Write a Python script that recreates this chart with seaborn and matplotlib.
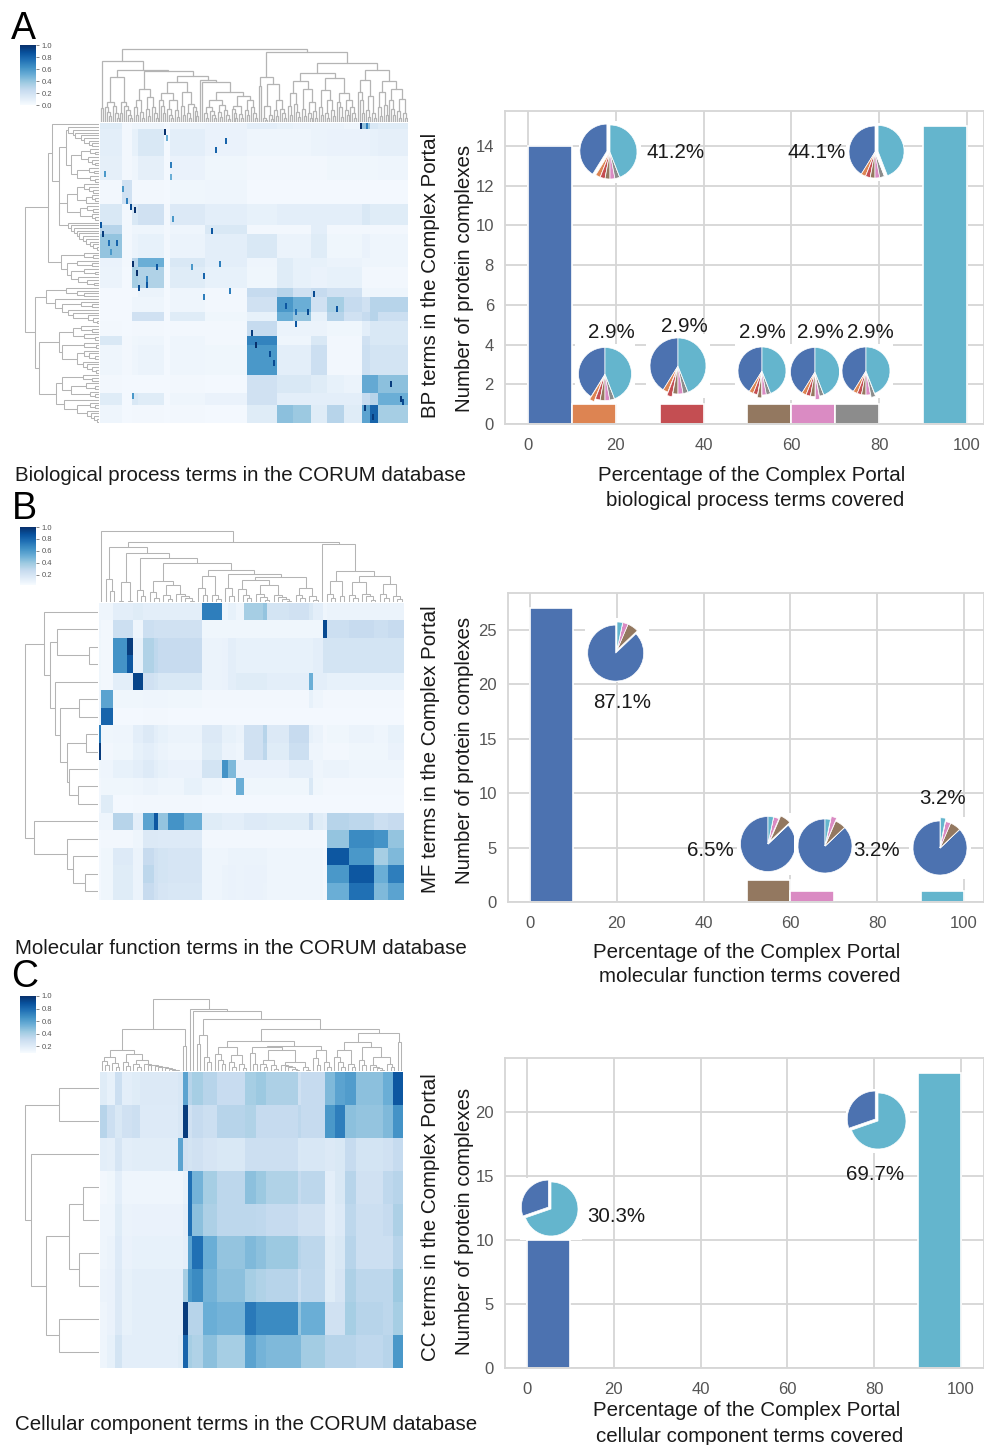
import numpy as np
import matplotlib
matplotlib.use("Agg")
import matplotlib.pyplot as plt
import seaborn as sns

# ---------- bar / pie data ----------
bin_edges = [0, 10, 20, 30, 40, 50, 60, 70, 80, 90, 100]
bin_mids = [5, 15, 25, 35, 45, 55, 65, 75, 85, 95]
counts_bp = [14, 1, 0, 1, 0, 1, 1, 1, 0, 15]
counts_mf = [27, 0, 0, 0, 0, 2, 1, 0, 0, 1]
counts_cc = [10, 0, 0, 0, 0, 0, 0, 0, 0, 23]

# ---------- panel A heatmap: blocks (rows x column groups) ----------
a_row_counts = [2, 9, 8, 8, 7, 3, 8, 3, 7, 3, 5, 3, 5, 3, 10, 6, 4, 6]
a_col_counts = [11, 5, 3, 13, 3, 18, 21, 15, 8, 9, 8, 9, 9, 4, 4, 15]
a_blocks = [
    [.12, .03, .05, .05, .02, .06, .07, .10, .08, .07, .06, .06, .05, .40, .15, .12],
    [.10, .03, .08, .15, .02, .10, .07, .05, .05, .05, .06, .07, .07, .07, .08, .09],
    [.09, .03, .05, .09, .02, .07, .04, .03, .03, .03, .03, .04, .04, .04, .04, .05],
    [.03, .20, .03, .03, .02, .04, .05, .02, .02, .02, .02, .02, .02, .02, .02, .02],
    [.15, .03, .15, .20, .03, .14, .10, .08, .10, .10, .10, .10, .10, .15, .12, .12],
    [.30, .03, .05, .05, .03, .05, .15, .03, .03, .03, .10, .03, .03, .03, .03, .03],
    [.40, .03, .06, .08, .03, .06, .10, .15, .06, .06, .12, .04, .04, .07, .05, .05],
    [.07, .03, .30, .50, .02, .15, .10, .05, .12, .08, .08, .06, .06, .05, .05, .05],
    [.06, .02, .35, .32, .02, .12, .08, .04, .12, .08, .07, .08, .08, .03, .03, .03],
    [.02, .02, .03, .06, .02, .05, .03, .25, .30, .20, .25, .20, .20, .05, .05, .05],
    [.02, .02, .05, .05, .02, .05, .03, .20, .60, .50, .20, .35, .25, .20, .30, .30],
    [.02, .02, .20, .20, .02, .12, .04, .08, .50, .40, .08, .30, .20, .25, .30, .22],
    [.03, .02, .03, .03, .02, .03, .03, .25, .06, .06, .06, .04, .04, .10, .15, .15],
    [.15, .03, .04, .05, .02, .05, .03, .68, .05, .05, .15, .03, .03, .20, .15, .15],
    [.05, .03, .05, .06, .02, .05, .04, .60, .10, .10, .22, .03, .03, .22, .18, .18],
    [.03, .02, .02, .02, .02, .03, .02, .20, .15, .15, .12, .08, .06, .52, .52, .42],
    [.12, .02, .15, .12, .02, .05, .07, .20, .10, .10, .10, .10, .10, .25, .30, .50],
    [.05, .02, .03, .03, .02, .03, .02, .12, .42, .38, .12, .30, .12, .55, .80, .35],
]
a_spot_rows = [2, 4, 5, 8, 13, 17, 16, 21, 25, 27, 28, 33, 31, 36, 39, 39, 42, 46, 47, 49,
               53, 54, 51, 47, 50, 57, 55, 46, 35, 60, 62, 62, 66, 61, 69, 73, 76, 79, 0, 0,
               86, 91, 92, 97, 94, 90, 56]
a_spot_cols = [32, 33, 63, 58, 35, 35, 2, 11, 13, 15, 17, 0, 36, 1, 4, 8, 5, 16, 28, 18,
               23, 19, 23, 46, 52, 52, 65, 60, 56, 93, 98, 104, 98, 119, 76, 78, 85, 87, 131, 134,
               146, 151, 152, 137, 133, 16, 107]
a_spot_vals = [1, .5, .8, .8, .7, .5, .6, .6, .7, .9, 1, .85, .6, .95, .75, .8, .6, 1, .85, 1,
               .85, .9, .7, .6, .8, .7, .7, .7, .85, .85, .75, .9, .85, .85, .95, 1, .9, .9, 1, .7,
               .95, .95, .9, .95, .95, .6, .9]

# ---------- panel B heatmap ----------
b_col_counts = [1, 6, 7, 3, 5, 5, 2, 5, 8, 9, 10, 3, 4, 4, 9, 2, 11, 10, 2, 5, 2, 11, 12, 7, 8]
b_blocks = [
    [.05, .05, .10, .10, .12, .10, .10, .10, .10, .10, .70, .05, .08, .05, .35, .40, .18, .20, .15, .10, .05, .06, .06, .06, .06],
    [.05, .03, .22, .22, .05, .22, .20, .20, .20, .20, .04, .04, .04, .04, .04, .04, .04, .04, .04, .04, .90, .22, .25, .22, .25],
    [.04, .03, .62, .95, .08, .32, .27, .25, .25, .25, .06, .07, .10, .08, .08, .08, .08, .08, .08, .10, .18, .18, .18, .18, .18],
    [.04, .03, .62, .85, .08, .32, .27, .25, .25, .25, .06, .07, .10, .08, .08, .08, .08, .08, .08, .10, .18, .18, .18, .18, .18],
    [.04, .03, .10, .10, .92, .20, .18, .15, .15, .15, .06, .07, .10, .12, .12, .12, .10, .10, .50, .10, .10, .08, .08, .08, .08],
    [.05, .55, .04, .04, .04, .05, .05, .05, .04, .04, .03, .03, .03, .03, .03, .03, .03, .03, .08, .05, .03, .03, .03, .03, .03],
    [.05, .80, .02, .02, .02, .03, .03, .03, .02, .02, .02, .02, .02, .02, .02, .02, .02, .02, .02, .02, .02, .02, .02, .02, .02],
    [.70, .04, .05, .05, .10, .14, .10, .08, .06, .06, .14, .08, .08, .06, .20, .30, .14, .25, .08, .06, .03, .04, .06, .05, .08],
    [.95, .03, .04, .04, .08, .10, .08, .06, .05, .05, .12, .06, .06, .05, .20, .28, .12, .22, .05, .05, .03, .03, .04, .04, .07],
    [.04, .05, .08, .08, .10, .13, .10, .08, .07, .07, .18, .62, .45, .07, .07, .07, .07, .10, .10, .05, .06, .06, .05, .05, .05],
    [.03, .04, .04, .04, .05, .06, .06, .05, .05, .08, .05, .03, .03, .50, .04, .04, .04, .04, .15, .04, .03, .03, .03, .03, .03],
    [.03, .12, .02, .02, .03, .03, .03, .03, .03, .03, .02, .02, .02, .02, .02, .02, .02, .02, .02, .02, .02, .02, .02, .02, .02],
    [.05, .05, .30, .30, .10, .55, .85, .40, .62, .50, .12, .10, .10, .10, .13, .13, .12, .12, .25, .12, .10, .30, .28, .22, .25],
    [.02, .03, .03, .03, .05, .14, .14, .13, .13, .13, .03, .03, .03, .03, .03, .03, .03, .03, .03, .03, .02, .40, .65, .62, .40],
    [.02, .04, .13, .13, .06, .25, .20, .18, .17, .17, .05, .05, .06, .06, .06, .06, .05, .05, .05, .05, .03, .85, .60, .35, .45],
    [.02, .04, .12, .12, .06, .28, .20, .18, .17, .17, .05, .06, .07, .06, .07, .07, .05, .05, .05, .05, .03, .60, .85, .50, .70],
    [.02, .04, .12, .12, .06, .25, .20, .17, .16, .16, .05, .06, .07, .06, .07, .06, .05, .05, .05, .05, .03, .50, .75, .45, .55],
]

# ---------- panel C heatmap ----------
c_col_counts = [4, 5, 4, 6, 5, 23, 3, 3, 2, 7, 8, 17, 7, 6, 19, 2, 14, 6, 6, 7, 16, 6, 6]
c_blocks = [
    [.12, .08, .22, .10, .12, .14, .16, .55, .30, .35, .30, .24, .35, .38, .33, .20, .25, .45, .55, .58, .42, .50, .85],
    [.30, .22, .15, .20, .22, .13, .16, .95, .20, .25, .22, .30, .32, .25, .25, .28, .25, .60, .70, .42, .40, .45, .62],
    [.10, .09, .17, .10, .11, .11, .55, .20, .18, .20, .17, .15, .22, .22, .22, .15, .16, .14, .15, .25, .18, .20, .25],
    [.03, .04, .10, .05, .05, .05, .05, .08, .75, .48, .35, .28, .42, .38, .32, .25, .28, .10, .15, .30, .20, .27, .30],
    [.05, .05, .12, .06, .07, .07, .07, .10, .75, .42, .33, .28, .28, .27, .25, .20, .20, .10, .13, .28, .22, .25, .33],
    [.05, .06, .13, .07, .08, .08, .08, .10, .55, .75, .50, .40, .45, .42, .38, .30, .28, .12, .15, .30, .22, .22, .30],
    [.06, .07, .14, .08, .10, .10, .10, .35, .60, .65, .48, .42, .35, .32, .30, .22, .27, .12, .17, .33, .28, .28, .38],
    [.05, .07, .14, .08, .10, .10, .10, .95, .30, .30, .50, .48, .72, .65, .65, .40, .50, .20, .20, .35, .30, .28, .35],
    [.05, .08, .18, .10, .10, .10, .12, .80, .35, .32, .42, .35, .55, .48, .45, .45, .36, .30, .30, .30, .27, .30, .60],
]


def L(*hs):
    node = [hs[0], 0, 0]
    for h in hs[1:]:
        node = [h, 0, node]
    return node


# ---------- dendrogram trees: [height, left, right], 0 = leaf ----------
a_top_tree = [1.0,
    [.84, [.19, 0, 0],
     [.72,
      [.62, [.28, L(.08, .14, .2), L(.06, .12, .22)], [.27, [.12, 0, 0], L(.05, .1, .16, .22)]],
      [.70,
       [.46, [.3, L(.1, .2), L(.05, .14)], [.34, L(.08, .18), [.2, 0, L(.06, .13)]]],
       [.63,
        [.55, [.4, L(.12, .22, .3), [.3, L(.06, .1, .18), L(.07, .16)]],
         [.42, L(.1, .22), [.25, L(.05, .12), L(.08, .15, .2)]]],
        [.58, 0,
         [.55, 0,
          [.42, [.3, [.2, L(.06, .12), L(.05, .1, .15)], [.24, L(.07, .14), L(.04, .1, .17)]],
           [.36, [.22, L(.06, .13, .18), L(.05, .11)], [.3, L(.09, .16), L(.06, .12, .2)]]]]]]]]],
    [.96,
     [.62, [.5, 0, 0],
      [.52, [.22, L(.03, .06), L(.04, .1)], [.3, L(.08, .16), L(.06, .12, .18)]]],
     [.81,
      [.67,
       [.57, [.4, L(.1, .22), L(.07, .14, .25)], [.45, L(.08, .18), [.28, L(.05, .12), L(.06, .15)]]],
       [.6, [.44, L(.1, .2), [.3, L(.05, .13), L(.08, .16)]],
        [.4, L(.07, .2, .28), [.3, L(.09, .17), L(.05, .12, .2)]]]],
      [.72,
       [.58, L(.12, .3, .42), [.36, L(.07, .17), L(.06, .13)]],
       [.56, [.42, L(.08, .2), L(.1, .24)], [.46, L(.09, .18, .3), [.32, L(.06, .15), L(.05, .12)]]]]]]]

a_left_tree = [1.0,
    [.69,
     [.64, 0,
      [.55,
       [.45, [.42, 0, L(.1, .14, .2, .25, .32, .36)],
        [.38, [.25, L(.06, .12), L(.05, .1, .15)], [.3, L(.07, .13), L(.05, .12)]]],
       [.54,
        [.43, [.3, L(.08, .14, .2), [.18, L(.05, .1), 0]], [.26, L(.08, .16), L(.05, .1)]],
        [.42, 0, L(.03, .08, .12, .18, .22, .27, .3, .34, .38)]]]],
     [.52, L(.08, .2), [.44, L(.1, .3), [.38, L(.06, .2), L(.07, .16, .28)]]]],
    [.87,
     [.72, L(.2, .3, .45), [.6, 0, [.5, L(.1, .25), L(.03, .08, .15, .35, .42)]]],
     [.81,
      [.54, [.36, L(.1, .25), L(.06, .2)],
       [.5, L(.04, .2), [.3, L(.06, .14, .2), L(.04, .1, .16, .22)]]],
      [.59, [.5, L(.1, .22), [.38, L(.06, .18), L(.05, .12)]],
       [.48, 0, [.3, L(.05, .12), L(.03, .07, .11, .16)]]]]]]

b_top_tree = [1.0, 0,
    [.85,
     [.78, L(.15, .33),
      [.70, [.29, [.02, 0, 0], [.02, 0, 0]],
       [.63, L(.08, .17),
        [.55,
         [.30, L(.06, .14), [.24, L(.04, .1), L(.02, .05, .08, .11)]],
         [.45,
          [.37, L(.1, .2), L(.04, .1)],
          [.39, L(.08, .2),
           [.36,
            [.31, L(.05, .1, .18), [.24, L(.03, .07, .12), L(.02, .04, .07, .1)]],
            [.2, L(.05, .1), L(.03, .09)]]]]]]]],
     [.82, 0,
      [.44,
       [.3, L(.06, .12), L(.08)],
       [.37, [.28, L(.05, .1), L(.03, .08, .12)], [.25, L(.06, .11), L(.04, .09)]]]]]]

b_left_tree = [1.0,
    [.74, 0,
     [.66,
      [.56, 0, [.13, 0, 0]],
      [.59, 0,
       [.52, [.26, 0, 0],
        [.43, [.17, 0, 0], [.40, 0, [.28, 0, 0]]]]]]],
    [.88, 0, [.43, 0, [.34, 0, [.18, 0, 0]]]]]

c_top_tree = [1.0,
    [.585,
     [.29,
      [.2, L(.08, .14), L(.06, .11)],
      [.24, L(.07, .13), [.16, L(.05, .1), L(.01, .02, .03, .04, .05, .06, .07, .08, .09, .1)]]],
     [.35, 0, 0]],
    [.86, 0,
     [.84, 0,
      [.72,
       [.5, [.38, 0, 0], L(.12, .2)],
       [.585,
        [.42,
         [.33, L(.1, .16, .24), [.22, L(.06, .12), L(.04, .1)]],
         [.35,
          [.34, L(.1, .25),
           [.3, [.16, L(.05, .1), L(.03, .08)], [.13, L(.01, .03, .05, .07, .09), L(.02, .06)]]],
          [.3, L(.08, .18), L(.06, .12)]]],
        [.53,
         [.40,
          [.3, L(.06, .12, .2), L(.05, .1)],
          [.34, L(.08, .16), [.2, L(.02, .04, .06, .08), L(.05, .1)]]],
         [.4, 0, 0]]]]]]]

c_left_tree = [1.0,
    [.54, 0, 0],
    [.92, 0,
     [.72,
      [.41, [.22, 0, 0], [.27, 0, 0]],
      [.54, 0, 0]]]]

titles_left = ["Biological process terms in the CORUM database",
               "Molecular function terms in the CORUM database",
               "Cellular component terms in the CORUM database"]
row_labels = ["BP terms in the Complex Portal", "MF terms in the Complex Portal",
              "CC terms in the Complex Portal"]
y_label = "Number of protein complexes"
x_label_lines = [
    ["Percentage of the Complex Portal", "biological process terms covered"],
    ["Percentage of the Complex Portal", "molecular function terms covered"],
    ["Percentage of the Complex Portal", "cellular component terms covered"],
]

W, H = 984, 1445
sns.set_theme(style="whitegrid")
plt.rcParams["font.family"] = ["Liberation Sans", "DejaVu Sans"]
palette = sns.color_palette("deep", 10)
fig = plt.figure(figsize=(W / 100, H / 100), dpi=100, facecolor="white")


def axpx(x0, y0, x1, y1, **kw):
    return fig.add_axes([x0 / W, 1 - y1 / H, (x1 - x0) / W, (y1 - y0) / H], **kw)


def tpx(x, y, s, **kw):
    kw.setdefault("ha", "center")
    kw.setdefault("va", "center")
    kw.setdefault("color", "#1a1a1a")
    if kw.get("rotation"):
        x += 2
    else:
        y += 2
    fig.text(x / W, 1 - y / H, s, **kw)


def tree_segments(node, cursor, segs):
    if node == 0:
        cursor[0] += 1
        return cursor[0] - .5, 0.0
    h, a, b = node
    pa, ha = tree_segments(a, cursor, segs)
    pb, hb = tree_segments(b, cursor, segs)
    segs.append(([pa, pa, pb, pb], [ha, h, h, hb]))
    return (pa + pb) / 2, h


def dendro(ax, tree, vertical_top, lw=.75):
    segs = []
    cursor = [0]
    tree_segments(tree, cursor, segs)
    for pos, hgt in segs:
        if vertical_top:
            ax.plot(pos, hgt, color="#b4b4b4", lw=lw, solid_joinstyle="miter")
        else:
            ax.plot(hgt, pos, color="#b4b4b4", lw=lw, solid_joinstyle="miter")
    if vertical_top:
        ax.set_xlim(0, cursor[0])
        ax.set_ylim(0, 1.02)
    else:
        ax.set_ylim(cursor[0], 0)
        ax.set_xlim(1.02, 0)
    ax.axis("off")


def heat(mat, box, cbox, vmin, cticks):
    ax = axpx(*box)
    cax = axpx(*cbox)
    sns.heatmap(vmin + (1 - vmin) * mat, ax=ax, cmap="Blues", vmin=vmin, vmax=1,
                xticklabels=False, yticklabels=False, cbar_ax=cax, cbar_kws={"ticks": cticks})
    cax.tick_params(labelsize=5.5, length=2.5, width=.5, colors="#555555", pad=1.5, left=False, right=True)
    ax.collections[0].colorbar.outline.set_visible(False)
    cax.grid(False)
    return ax


def bars(counts, box, xlim, ylim, yticks):
    ax = axpx(*box)
    sns.histplot(x=bin_mids, weights=counts, bins=bin_edges, ax=ax, alpha=1,
                 edgecolor="white", linewidth=1.2)
    for patch, col, n in zip(ax.patches, palette, counts):
        patch.set_facecolor(col)
        patch.set_visible(n > 0)
    ax.set_xlim(*xlim)
    ax.set_ylim(*ylim)
    ax.set_xticks(range(0, 101, 20))
    ax.set_yticks(yticks)
    ax.set_xlabel("")
    ax.set_ylabel("")
    ax.tick_params(axis="x", labelsize=12, pad=10, colors="#555555", length=0)
    ax.tick_params(axis="y", labelsize=12, pad=8, colors="#555555", length=0)
    ax.grid(True, color="#d6d6d6", lw=1.3)
    ax.set_axisbelow(True)
    for s in ax.spines.values():
        s.set_color("#d6d6d6")
        s.set_linewidth(1.3)
    return ax


def pie(counts, explode_i, cx, cy, r):
    side = r * 2.26
    ax = axpx(cx - side / 2, cy - side / 2, cx + side / 2, cy + side / 2)
    explode = [.12 if i == explode_i else 0 for i in range(10)]
    ax.pie(counts, explode=explode, colors=palette, startangle=90,
           wedgeprops={"edgecolor": "white", "linewidth": .5})
    ax.set_xlim(-1.13, 1.13)
    ax.set_ylim(-1.13, 1.13)
    ax.set_frame_on(True)
    ax.patch.set_facecolor("white")
    ax.patch.set_visible(True)
    for s in ax.spines.values():
        s.set_visible(False)
    ax.grid(False)


# ---------- Panel A ----------
mat_a = np.repeat(np.repeat(np.array(a_blocks), a_row_counts, axis=0), a_col_counts, axis=1)
for r, c, v in zip(a_spot_rows, a_spot_cols, a_spot_vals):
    mat_a[r:r + 2, c:c + 1] = v
heat(mat_a, (100, 123, 408, 423), (20, 45, 36, 105), 0, [0, .2, .4, .6, .8, 1])
dendro(axpx(100, 48, 408, 122), a_top_tree, True, lw=.9)
dendro(axpx(24, 123, 99, 423), a_left_tree, False)

bars(counts_bp, (505, 111, 984, 424), (-5.24, 103.9), (0, 15.76), range(0, 15, 2))
for expl, cx, cy, r in [(0, 610, 152, 27), (9, 875, 152, 26), (1, 605, 374, 26.5), (3, 678, 366, 28),
                        (5, 762, 371, 24), (6, 815, 372, 24.5), (7, 866, 371, 24)]:
    pie(counts_bp, expl, cx, cy, r)
for x, y, s in [(676, 151, "41.2%"), (817, 151, "44.1%"), (611, 330, "2.9%"), (684, 324, "2.9%"),
                (762, 330, "2.9%"), (820, 330, "2.9%"), (870, 330, "2.9%")]:
    tpx(x, y, s, fontsize=14.8)

# ---------- Panel B ----------
mat_b = np.repeat(np.array(b_blocks), b_col_counts, axis=1)
heat(mat_b, (99, 603, 404, 900), (20, 527, 36, 585), .03, [.2, .4, .6, .8, 1])
dendro(axpx(99, 530, 404, 602), b_top_tree, True)
dendro(axpx(24, 603, 98, 900), b_left_tree, False)

bars(counts_mf, (508, 593, 984, 902), (-5.07, 104.6), (0, 28.35), range(0, 26, 5))
for expl, cx, cy, r in [(0, 617, 650, 28), (5, 768, 844, 27.5), (6, 825, 846, 27), (9, 940, 848, 27)]:
    pie(counts_mf, expl, cx, cy, r)
for x, y, s in [(622, 700, "87.1%"), (710, 848, "6.5%"), (877, 848, "3.2%"), (943, 797, "3.2%")]:
    tpx(x, y, s, fontsize=14.8)

# ---------- Panel C ----------
mat_c = np.repeat(np.array(c_blocks), c_col_counts, axis=1)
heat(mat_c, (100, 1072, 403, 1368), (20, 996, 36, 1053), .09, [.2, .4, .6, .8, 1])
dendro(axpx(100, 998, 403, 1071), c_top_tree, True)
dendro(axpx(24, 1072, 99, 1368), c_left_tree, False)

bars(counts_cc, (505, 1058, 984, 1368), (-5.07, 105.3), (0, 24.2), range(0, 21, 5))
for expl, cx, cy, r in [(0, 551, 1209, 27), (0, 878, 1121, 28)]:
    pie(counts_cc, expl, cx, cy, r)
for x, y, s in [(616, 1214, "30.3%"), (875, 1173, "69.7%")]:
    tpx(x, y, s, fontsize=14.8)

# ---------- shared text ----------
for (x, y, s) in [(23, 27, "A"), (24, 507, "B"), (25, 975, "C")]:
    tpx(x, y, s, fontsize=27, color="black")
for y, s in zip([474, 947, 1422], titles_left):
    tpx(15, y, s, ha="left", fontsize=14.75)
for y, s in zip([275, 749, 1217], row_labels):
    tpx(428, y, s, rotation=90, fontsize=14.75)
for y in [278, 750, 1221]:
    tpx(462, y, y_label, rotation=90, fontsize=14.75)
tpx(752, 474, x_label_lines[0][0], fontsize=14.75)
tpx(755, 498, x_label_lines[0][1], fontsize=14.75)
tpx(747, 950, x_label_lines[1][0], fontsize=14.75)
tpx(750, 975, x_label_lines[1][1], fontsize=14.75)
tpx(747, 1409, x_label_lines[2][0], fontsize=14.75)
tpx(750, 1434, x_label_lines[2][1], fontsize=14.75)

fig.savefig("out.png", dpi=100, facecolor="white")
